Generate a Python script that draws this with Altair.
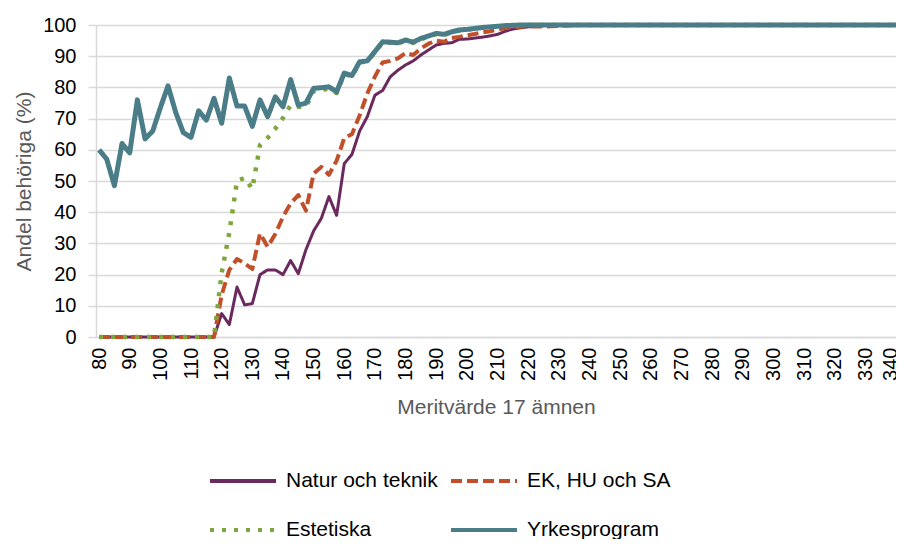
import altair as alt
import pandas as pd

# x categories: Meritvärde 17 ämnen, steps of 2.5 from 80 to 340
merit = [80 + 2.5 * i for i in range(105)]

series = ["Natur och teknik", "EK, HU och SA", "Estetiska", "Yrkesprogram"]
colors = ["#6b2a5e", "#c0502a", "#7fa63c", "#4a7d87"]

natur = [
    0, 0, 0, 0, 0, 0, 0, 0, 0, 0, 0, 0, 0, 0, 0, 0,
    7.5, 4, 16, 10.3, 10.7, 20, 21.5, 21.5, 20, 24.5, 20.3, 28, 34, 38, 45, 39,
    55.6, 58.5, 66, 70.6, 77.5, 79, 83.4, 85.5, 87.2, 88.5, 90.4, 92, 93.6, 94.1, 94.3, 95.4,
    95.5, 95.8, 96.1, 96.5, 97, 98, 98.7, 99.1, 99.4, 99.6, 99.8, 99.9,
    100, 100, 100, 100, 100, 100, 100, 100, 100, 100, 100, 100, 100, 100, 100,
    100, 100, 100, 100, 100, 100, 100, 100, 100, 100, 100, 100, 100, 100, 100,
    100, 100, 100, 100, 100, 100, 100, 100, 100, 100, 100, 100, 100, 100, 100,
]
ekhusa = [
    0, 0, 0, 0, 0, 0, 0, 0, 0, 0, 0, 0, 0, 0, 0, 0,
    13.5, 21.5, 25, 23.6, 21.8, 33.2, 28.9, 33, 38.5, 42.8, 45.5, 40.5, 52.4, 54.5, 52, 56.5,
    63.8, 65, 71, 78, 83.5, 88, 88.5, 89.3, 91, 90.4, 92.5, 94, 95, 94.6, 95.8, 96.2,
    96.7, 97.1, 97.6, 98, 98.5, 99, 99.3, 99.4, 99.5, 99.5, 99.5, 99.6,
    99.7, 99.8, 99.9, 100, 100, 100, 100, 100, 100, 100, 100, 100, 100, 100, 100,
    100, 100, 100, 100, 100, 100, 100, 100, 100, 100, 100, 100, 100, 100, 100,
    100, 100, 100, 100, 100, 100, 100, 100, 100, 100, 100, 100, 100, 100, 100,
]
estetiska = [
    0, 0, 0, 0, 0, 0, 0, 0, 0, 0, 0, 0, 0, 0, 0, 0,
    20.5, 33.5, 50, 51, 47.5, 61.5, 63.8, 66.8, 70.2, 74.3, 73.8, 73.8, 78.8, 79.3, 79.5, 78.2,
    84.3, 83.5, 88, 88.3, 91.3, 94.4, 94.3, 94.1, 95, 94.3, 95.5, 96.3, 97.1, 96.8, 97.6, 98.2,
    98.5, 98.8, 99.1, 99.3, 99.5, 99.7, 99.8, 99.9, 100, 100, 100, 100,
    100, 100, 100, 100, 100, 100, 100, 100, 100, 100, 100, 100, 100, 100, 100,
    100, 100, 100, 100, 100, 100, 100, 100, 100, 100, 100, 100, 100, 100, 100,
    100, 100, 100, 100, 100, 100, 100, 100, 100, 100, 100, 100, 100, 100, 100,
]
yrkes = [
    60, 57, 48.5, 62, 59, 76, 63.5, 66, 73.5, 80.5, 72, 65.5, 64, 72.5, 69.5, 76.5,
    68.5, 83, 74, 74, 67.5, 76, 70.6, 77, 73.8, 82.5, 74.3, 75, 79.7, 79.9, 80.2, 78.6,
    84.6, 83.8, 88.2, 88.5, 91.5, 94.6, 94.5, 94.3, 95.2, 94.5, 95.7, 96.5, 97.3, 97, 97.8, 98.4,
    98.6, 98.9, 99.2, 99.4, 99.6, 99.8, 99.9, 100, 100, 100, 100, 100,
    100, 100, 100, 100, 100, 100, 100, 100, 100, 100, 100, 100, 100, 100, 100,
    100, 100, 100, 100, 100, 100, 100, 100, 100, 100, 100, 100, 100, 100, 100,
    100, 100, 100, 100, 100, 100, 100, 100, 100, 100, 100, 100, 100, 100, 100,
]

x_ticks = list(range(80, 341, 10))
y_ticks = list(range(0, 101, 10))

values = {series[0]: natur, series[1]: ekhusa, series[2]: estetiska, series[3]: yrkes}
rows = []
for s in series:
    for m, v in zip(merit, values[s]):
        rows.append({"merit": m, "andel": v, "serie": s})
df = pd.DataFrame(rows)

FONT = "Liberation Sans"
GRID = "#d9d9d9"

legend = alt.Legend(
    title=None,
    orient="none",
    direction="horizontal",
    legendX=112,
    legendY=421,
    columns=2,
    columnPadding=5,
    rowPadding=4,
    symbolType="stroke",
    symbolSize=4356,
    symbolStrokeWidth=4,
    labelFont=FONT,
    labelFontSize=21,
    labelColor="#000000",
    labelOffset=8,
    labelLimit=400,
    padding=0,
)

x_enc = alt.X(
    "merit:Q",
    scale=alt.Scale(domain=[79, 340], nice=False, zero=False),
    axis=alt.Axis(
        title="Meritvärde 17 ämnen",
        values=x_ticks,
        labelAngle=270,
        labelBaseline={"condition": {"test": "datum.value >= 340", "value": "alphabetic"}, "value": "middle"},
        ticks=False,
        labelPadding=10,
        grid=False,
        domainColor=GRID,
        domainWidth=1.5,
        titlePadding=16,
    ),
)
y_enc = alt.Y(
    "andel:Q",
    scale=alt.Scale(domain=[0, 100], nice=False),
    axis=alt.Axis(
        title="Andel behöriga (%)",
        values=y_ticks,
        tickSize=8,
        tickColor=GRID,
        tickWidth=1.5,
        labelPadding=12,
        grid=True,
        gridColor=GRID,
        gridWidth=1.5,
        domainColor=GRID,
        domainWidth=1.5,
        titlePadding=8,
    ),
)

color_enc = alt.Color("serie:N", scale=alt.Scale(domain=series, range=colors), legend=legend)
dash_enc = alt.StrokeDash(
    "serie:N",
    scale=alt.Scale(domain=series, range=[[1, 0], [11, 5], [4, 8], [1, 0]]),
    legend=legend,
)

widths = {"Natur och teknik": 3, "EK, HU och SA": 4, "Estetiska": 4.5, "Yrkesprogram": 5}
layers = []
for s in series:
    layers.append(
        alt.Chart(df)
        .transform_filter(alt.datum.serie == s)
        .mark_line(strokeWidth=widths[s], strokeJoin="round")
        .encode(x=x_enc, y=y_enc, color=color_enc, strokeDash=dash_enc)
    )

chart = (
    alt.layer(*layers)
    .properties(
        width=800,
        height=312,
        autosize=alt.AutoSizeParams(type="none"),
        padding={"left": 88, "top": 17, "right": 0, "bottom": 202},
    )
    .configure_view(stroke=None)
    .configure_axis(
        labelFont=FONT,
        labelFontSize=20,
        labelColor="#000000",
        titleFont=FONT,
        titleFontSize=21,
        titleColor="#595959",
        titleFontWeight="normal",
    )
)

chart.save("out.html", embed_options={"renderer": "svg", "actions": False})
